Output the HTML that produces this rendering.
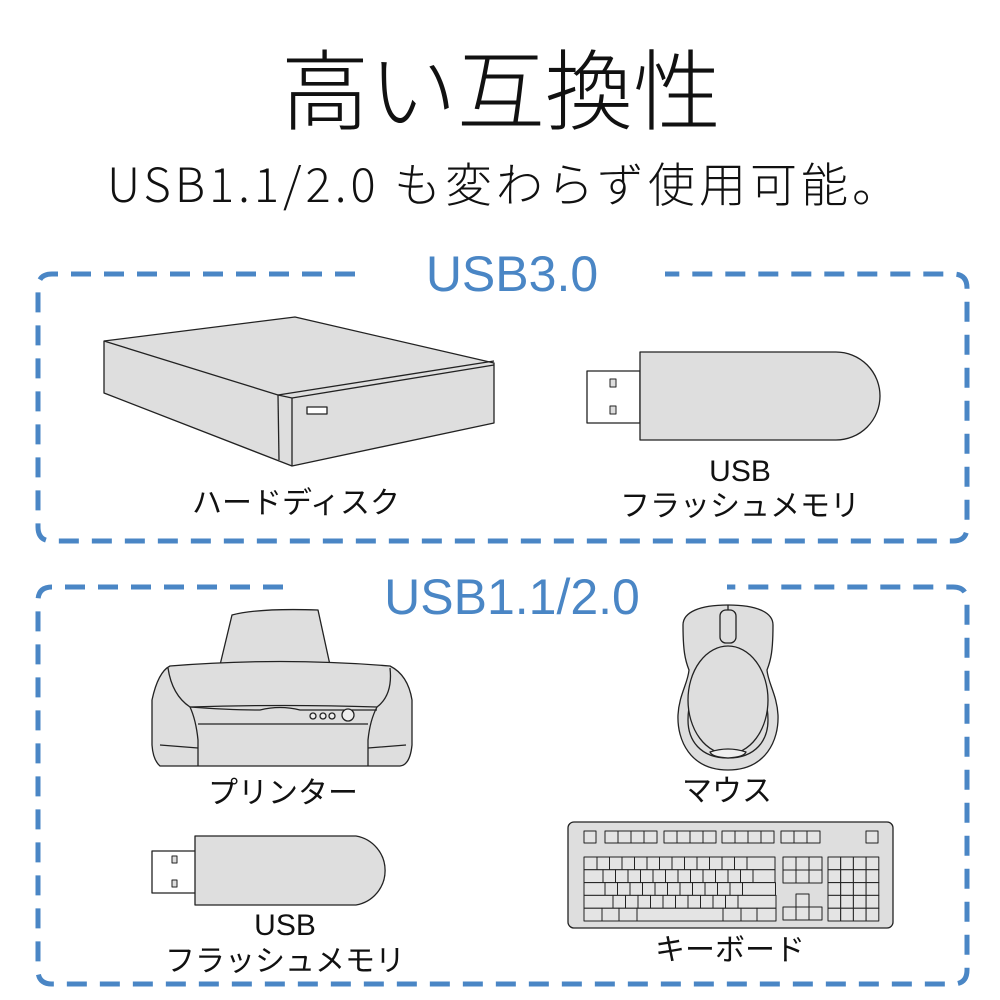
<!DOCTYPE html>
<html><head><meta charset="utf-8"><style>
html,body{margin:0;padding:0;background:#fff;width:1000px;height:1000px;overflow:hidden}
svg{display:block}
text{font-family:"Liberation Sans","Noto Sans CJK JP",sans-serif}
</style></head><body>
<svg id="s" width="1000" height="1000" viewBox="0 0 1000 1000" xmlns="http://www.w3.org/2000/svg">
<text x="501" y="123" font-size="88" text-anchor="middle" fill="#111" font-weight="300" style="font-family:'Noto Sans CJK JP',sans-serif">高い互換性</text>
<text x="505" y="202" font-size="47" text-anchor="middle" fill="#111" font-weight="300" letter-spacing="4" style="font-family:'Noto Sans CJK JP',sans-serif">USB1.1/2.0 も変わらず使用可能。</text>

<g fill="none" stroke="#4a86c5" stroke-width="5" stroke-dasharray="20 13">
<path d="M355 274 H52 Q38 274 38 288 V527 Q38 541 52 541 H953 Q967 541 967 527 V288 Q967 274 953 274 H665"/>
<path d="M283 587 H52 Q38 587 38 601 V970 Q38 984 52 984 H953 Q967 984 967 970 V601 Q967 587 953 587 H727"/>
</g>
<text x="512" y="291" font-size="50" text-anchor="middle" fill="#4a86c5">USB3.0</text>
<text x="512" y="614" font-size="50" text-anchor="middle" fill="#4a86c5">USB1.1/2.0</text>

<g stroke="#222" stroke-width="1.3" fill="#dedede" stroke-linejoin="round">
<polygon points="104,341 295,317 494,363 494,423 292,466 104,393"/>
<polyline fill="none" points="104,341 278,395 494,361"/>
<polyline fill="none" points="278,395 292,398 494,365"/>
<line x1="278" y1="395" x2="279" y2="460"/>
<line x1="292" y1="398" x2="292" y2="466"/>
<rect x="307" y="407" width="20" height="7" fill="#fff"/>
<rect x="587" y="371" width="53" height="52" fill="#fff"/>
<rect x="610" y="379" width="6" height="8" fill="#ddd" stroke-width="1"/>
<rect x="610" y="406" width="6" height="8" fill="#ddd" stroke-width="1"/>
<path d="M640 352 H836 A44 44 0 0 1 836 440 H640 Z"/>
<rect x="152" y="851" width="44" height="42" fill="#fff"/>
<rect x="172" y="856" width="5" height="7" fill="#ddd" stroke-width="1"/>
<rect x="172" y="880" width="5" height="7" fill="#ddd" stroke-width="1"/>
<path d="M195 836 H356 A35 35 0 0 1 356 905 H195 Z"/>
<path d="M220 665 L232 615 Q258 608 318 610 L330 665 Z"/>
<path d="M170 666 Q280 657 390 666 Q408 675 412 700 L412 745 Q410 765 400 766 L160 766 Q153 760 152 745 L152 700 Q158 672 170 666 Z"/>
<path d="M168 668 Q172 695 190 707 Q285 704 377 707 Q393 695 390 668" fill="none"/>
<path d="M190 707 Q196 720 198 740 L198 766 M377 707 Q370 720 368 740 L368 766" fill="none"/>
<path d="M198 724 L368 724" fill="none"/>
<path d="M190 707 Q230 710 260 710 Q280 705 300 710 L377 710" fill="none"/>
<path d="M160 745 L198 748 M368 748 L406 745" fill="none"/>
<circle cx="313" cy="716" r="3" fill="#eee"/><circle cx="323" cy="716" r="3" fill="#eee"/><circle cx="332" cy="716" r="3" fill="#eee"/><circle cx="348" cy="715" r="6" fill="#eee"/>
<path d="M728 770 C690 770 677 740 678 715 C679 695 688 683 689 670 C685 660 683 650 683 625 C683 612 700 605 728 605 C756 605 773 612 773 625 C773 650 771 660 767 670 C768 683 777 695 778 715 C779 740 766 770 728 770 Z"/>
<path d="M728 758 C700 758 688 740 688 720 C688 700 695 690 700 680 M728 758 C756 758 768 740 768 720 C768 700 761 690 756 680" fill="none"/>
<ellipse cx="728" cy="700" rx="40" ry="54"/>
<rect x="720" y="610" width="16" height="33" rx="6"/>
<line x1="728" y1="605" x2="728" y2="610"/>
<path d="M710 752 Q728 746 746 752 Q744 757 728 758 Q712 757 710 752 Z" fill="#eee"/>
<rect x="568" y="822" width="325" height="106" rx="6"/>
<g id="kb" fill="#e4e4e4" stroke-width="1"></g>
</g>

<g font-size="30" text-anchor="middle" fill="#111" style="font-family:'Noto Sans CJK JP',sans-serif">
<text x="296" y="513">ハードディスク</text>
<text x="740" y="481">USB</text>
<text x="740" y="516">フラッシュメモリ</text>
<text x="283" y="803">プリンター</text>
<text x="727" y="801">マウス</text>
<text x="285" y="935">USB</text>
<text x="285" y="971">フラッシュメモリ</text>
<text x="730" y="960">キーボード</text>
</g>
</svg>
<script>
var g=document.getElementById('kb'),ns='http://www.w3.org/2000/svg';
function r(x,y,w,h){var e=document.createElementNS(ns,'rect');e.setAttribute('x',x);e.setAttribute('y',y);e.setAttribute('width',w);e.setAttribute('height',h);g.appendChild(e);}
r(584,831,12,12);
[[605,4],[664,4],[722,4],[781,3]].forEach(function(a){for(var i=0;i<a[1];i++)r(a[0]+i*13,831,13,12);});
r(866,831,12,12);
var y0=857,h=12.8;
function row(y,ws){var x=584;ws.forEach(function(w){r(x,y,w,h);x+=w;});}
row(y0,[13,12.5,12.5,12.5,12.5,12.5,12.5,12.5,12.5,12.5,12.5,12.5,12.5,28]);
row(y0+h,[19,12.5,12.5,12.5,12.5,12.5,12.5,12.5,12.5,12.5,12.5,12.5,12.5,22]);
row(y0+2*h,[21,12.5,12.5,12.5,12.5,12.5,12.5,12.5,12.5,12.5,12.5,12.5,33]);
row(y0+3*h,[29,12.5,12.5,12.5,12.5,12.5,12.5,12.5,12.5,12.5,12.5,38]);
row(y0+4*h,[18,17,18,86,18,16,19]);
for(var i=0;i<3;i++)for(var j=0;j<2;j++)r(783+i*13,857+j*13,13,13);
r(796,894,13,13);for(var i=0;i<3;i++)r(783+i*13,907,13,13);
for(var i=0;i<4;i++)for(var j=0;j<5;j++)r(828+i*12.7,857+j*12.8,12.7,12.8);
</script>
</body></html>
